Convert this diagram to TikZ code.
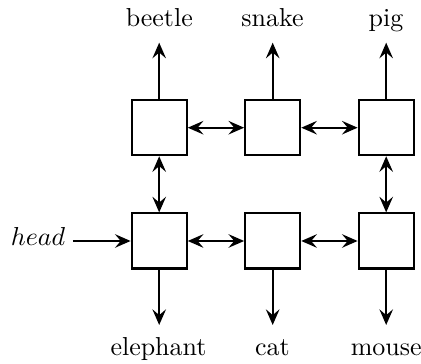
\documentclass[tikz,border=0pt]{standalone}
\usetikzlibrary{arrows.meta}
\begin{document}
\begin{tikzpicture}[x=0.385pt,y=-0.385pt,
  >={Stealth[length=6pt,width=5.2pt,inset=2.2pt]},
  cell/.style={draw,thick,minimum size=21.2pt,inner sep=0pt},
  lbl/.style={inner sep=0pt,anchor=base},
  link/.style={thick,<->},
  pointer/.style={thick,->}]
  \useasboundingbox (0,0) rectangle (421,364);

  % cells of the two rows
  \node[cell] (a1) at (159.2,127.7) {};
  \node[cell] (a2) at (272.7,127.7) {};
  \node[cell] (a3) at (386.2,127.7) {};
  \node[cell] (b1) at (159.2,241) {};
  \node[cell] (b2) at (272.7,241) {};
  \node[cell] (b3) at (386.2,241) {};

  % labels
  \node[lbl] (beetle) at (159.3,27) {beetle};
  \node[lbl] (snake) at (272.5,27) {snake};
  \node[lbl] (pig) at (386,27) {pig};
  \node[lbl] (elephant) at (158.5,356) {elephant};
  \node[lbl] (cat) at (272.5,356) {cat};
  \node[lbl] (mouse) at (386.2,356) {mouse};
  \node[lbl] (head) at (38,246) {$head$};

  % free ends of the outgoing arrows
  \coordinate (t1) at (159.2,42.7);
  \coordinate (t2) at (272.7,42.7);
  \coordinate (t3) at (386.2,42.7);
  \coordinate (u1) at (159.2,325);
  \coordinate (u2) at (272.7,325);
  \coordinate (u3) at (386.2,325);
  \coordinate (h0) at (73,241);

  % links between cells
  \draw[link] (a1) -- (a2);
  \draw[link] (a2) -- (a3);
  \draw[link] (b1) -- (b2);
  \draw[link] (b2) -- (b3);
  \draw[link] (a1) -- (b1);
  \draw[link] (a3) -- (b3);

  % pointers to the labels
  \draw[pointer] (a1) -- (t1);
  \draw[pointer] (a2) -- (t2);
  \draw[pointer] (a3) -- (t3);
  \draw[pointer] (b1) -- (u1);
  \draw[pointer] (b2) -- (u2);
  \draw[pointer] (b3) -- (u3);
  \draw[pointer] (h0) -- (b1);
\end{tikzpicture}
\end{document}
